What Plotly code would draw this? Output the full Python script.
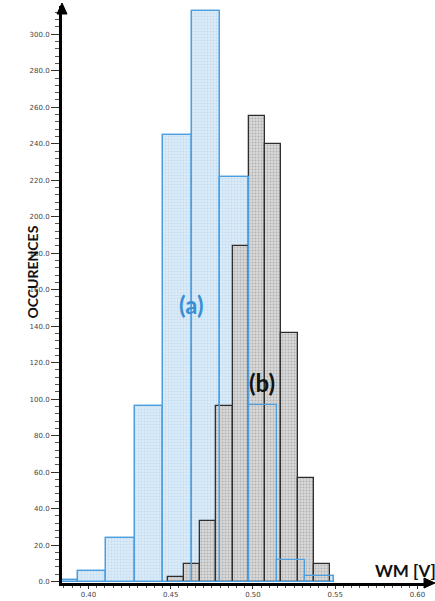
import plotly.graph_objects as go

# ---- data ----
blue_counts = [1, 6, 24, 96, 245, 313, 222, 97, 12, 3]
blue_start = 0.3763
blue_width = 0.01729

black_counts = [2.5, 9.5, 33, 96, 184, 255, 240, 136, 57, 9.5]
black_start = 0.4481
black_width = 0.00987

y_ticks = [0, 20, 40, 60, 80, 100, 120, 140, 160, 180, 200, 220, 240, 260, 280, 300]
x_ticks = [0.40, 0.45, 0.50, 0.55, 0.60]

blue_centers = [blue_start + blue_width * (i + 0.5) for i in range(len(blue_counts))]
black_centers = [black_start + black_width * (i + 0.5) for i in range(len(black_counts))]

BLUE_LINE = "#4d9fe0"
BLUE_FILL = "#dcebf8"
BLUE_DOT = "#a3cbeb"
GRAY_FILL = "#d9d9d9"
GRAY_DOT = "#8a8a8a"
GRAY_LINE = "#2e2e2e"

fig = go.Figure()

fig.add_trace(go.Bar(
    x=blue_centers, y=blue_counts, width=[blue_width] * len(blue_counts),
    marker=dict(color=BLUE_FILL, line=dict(color=BLUE_LINE, width=1.3),
                pattern=dict(shape=".", fgcolor=BLUE_DOT, size=3, solidity=0.3, fillmode="overlay")),
    hoverinfo="skip", showlegend=False))

fig.add_trace(go.Bar(
    x=black_centers, y=black_counts, width=[black_width] * len(black_counts),
    marker=dict(color=GRAY_FILL, line=dict(color=GRAY_LINE, width=1.3),
                pattern=dict(shape=".", fgcolor=GRAY_DOT, size=3, solidity=0.35, fillmode="overlay")),
    hoverinfo="skip", showlegend=False))

# blue outlines drawn on top
fig.add_trace(go.Bar(
    x=blue_centers, y=blue_counts, width=[blue_width] * len(blue_counts),
    marker=dict(color="rgba(0,0,0,0)", line=dict(color=BLUE_LINE, width=1.3)),
    hoverinfo="skip", showlegend=False))

L, R, T, B = 62, 6, 6, 18
W, H = 435, 601
pw, ph = W - L - R, H - T - B

fig.update_layout(
    width=W, height=H, barmode="overlay", bargap=0,
    margin=dict(l=L, r=R, t=T, b=B, autoexpand=False),
    plot_bgcolor="white", paper_bgcolor="white",
    xaxis=dict(range=[0.3839, 0.6070], showgrid=False, zeroline=False, automargin=False,
               showline=True, linecolor="black", linewidth=3,
               tickvals=x_ticks, ticktext=[f"{v:.2f}" for v in x_ticks],
               ticks="outside", ticklen=3, tickcolor="#333", tickwidth=1,
               tickfont=dict(family="DejaVu Sans", size=7, color="#444"),
               minor=dict(dtick=0.005, tick0=0.40, ticks="outside", ticklen=2, tickcolor="#555")),
    yaxis=dict(range=[-0.8, 315.5], showgrid=False, zeroline=False, automargin=False,
               showline=True, linecolor="black", linewidth=3,
               tickvals=y_ticks, ticktext=[f"{v:.1f}" for v in y_ticks],
               ticks="outside", ticklen=8, tickcolor="#333", tickwidth=1,
               tickfont=dict(family="DejaVu Sans", size=7, color="#444"),
               minor=dict(dtick=4, tick0=0, ticks="outside", ticklen=4, tickcolor="#555")),
)

# arrow heads
def px_to_paper(px, py):
    return (px - L) / pw, 1 - (py - T) / ph

ax0, ay0 = px_to_paper(62, 3)
ax1, ay1 = px_to_paper(57, 14)
ax2, ay2 = px_to_paper(67, 14)
fig.add_shape(type="path", xref="paper", yref="paper",
              path=f"M {ax0} {ay0} L {ax1} {ay1} L {ax2} {ay2} Z",
              fillcolor="black", line=dict(color="black", width=1))
bx0, by0 = px_to_paper(435, 583)
bx1, by1 = px_to_paper(424, 578)
bx2, by2 = px_to_paper(424, 588)
fig.add_shape(type="path", xref="paper", yref="paper",
              path=f"M {bx0} {by0} L {bx1} {by1} L {bx2} {by2} Z",
              fillcolor="black", line=dict(color="black", width=1))

fig.add_annotation(x=0.4629, y=151.6, text="<b>(a)</b>", showarrow=False,
                   font=dict(family="Lato", size=24, color="#3a8fd4"))
fig.add_annotation(x=0.5055, y=109, text="<b>(b)</b>", showarrow=False,
                   font=dict(family="Lato", size=24, color="#111"))
wx, _ = px_to_paper(438, 0)
fig.add_annotation(xref="paper", x=wx, xanchor="right", y=5.8, text="<b>WM [V]</b>",
                   showarrow=False, font=dict(family="Lato", size=17, color="#111"))
_, ty = px_to_paper(0, 272)
fig.add_annotation(xref="paper", yref="paper", x=0, y=ty, xshift=-41,
                   text="<b>OCCURENCES</b>", textangle=-90, showarrow=False,
                   font=dict(family="Lato", size=14, color="#111"))

fig.write_html("out.html", config={"displayModeBar": False},
               post_script="document.body.style.margin='0';")
